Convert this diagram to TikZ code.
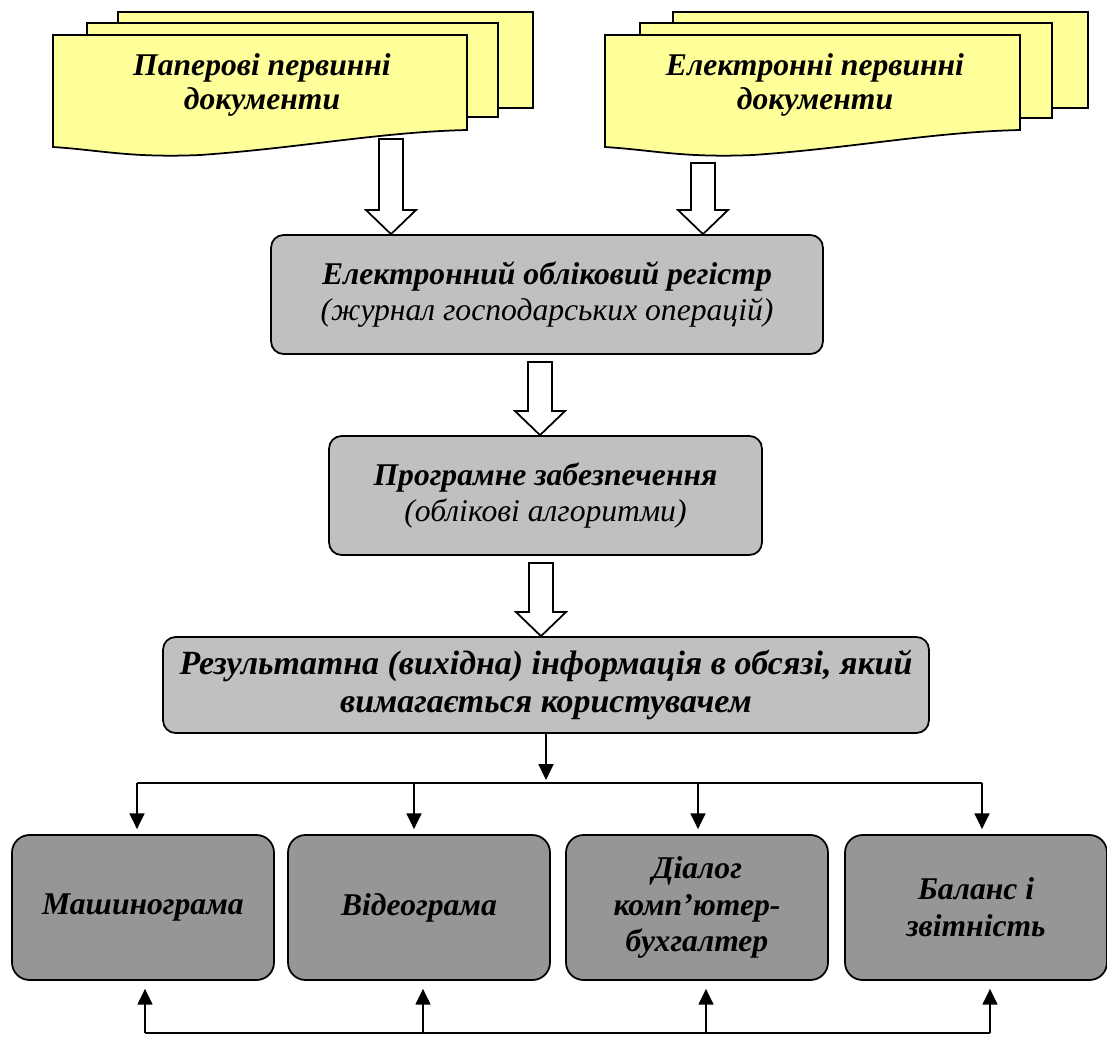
\documentclass[tikz,border=0pt]{standalone}
\usepackage{fontspec}
\setmainfont{Liberation Serif}
\usetikzlibrary{arrows.meta,calc}
\definecolor{docyellow}{HTML}{FFFF99}
\definecolor{boxgray}{HTML}{C0C0C0}
\definecolor{outgray}{HTML}{969696}
\tikzset{
  sheet/.style={draw,line width=1pt,fill=docyellow},
  doctext/.style={align=center,font=\bfseries\itshape\fontsize{18}{19}\selectfont},
  regbox/.style={draw,line width=1pt,fill=boxgray,rounded corners=0.25cm,align=center,font=\bfseries\itshape\fontsize{18}{21}\selectfont},
  outbox/.style={draw,line width=1pt,fill=outgray,rounded corners=0.35cm,align=center,minimum width=5.24cm,minimum height=2.9cm,font=\bfseries\itshape\fontsize{18}{21}\selectfont},
  hollow/.style={draw,line width=1pt,fill=white,to path={let \p1=(\tikztostart),\p2=(\tikztotarget) in
    (\x1-6.8pt,\y1) -- (\x1+6.8pt,\y1) -- (\x1+6.8pt,\y2+13.7pt) -- (\x1+14.2pt,\y2+13.7pt) -- (\x1,\y2)
    -- (\x1-14.2pt,\y2+13.7pt) -- (\x1-6.8pt,\y2+13.7pt) -- cycle}},
  feed/.style={line width=1pt,-{Triangle[length=9pt,width=8.5pt]}}
}
\begin{document}
\begin{tikzpicture}[x=0.02cm,y=-0.02cm]
  \useasboundingbox (0,0) rectangle (1107,1036);
  % paper documents
  \draw[sheet] (118,12) rectangle (533,108);
  \draw[sheet] (87,23) rectangle (498,117);
  \draw[sheet] (53,35) -- (467,35) -- (467,130) .. controls (380,132) and (300,148) .. (200,155)
    .. controls (130,158) and (100,150) .. (53,147) -- cycle;
  \node[doctext] (paper) at (262,85) {Паперові первинні\\документи};
  % electronic documents
  \draw[sheet] (673,12) rectangle (1088,108);
  \draw[sheet] (640,23) rectangle (1052,118);
  \draw[sheet] (605,35) -- (1020,35) -- (1020,130) .. controls (933,132) and (853,148) .. (753,155)
    .. controls (683,158) and (653,150) .. (605,147) -- cycle;
  \node[doctext] (edoc) at (815,85) {Електронні первинні\\документи};

  \node[regbox,minimum width=11.04cm,minimum height=2.38cm] (reg) at (547,294.5)
    {Електронний обліковий регістр\\{\mdseries(журнал господарських операцій)}};
  \node[regbox,minimum width=8.66cm,minimum height=2.38cm] (soft) at (545.5,495.5)
    {Програмне забезпечення\\{\mdseries(облікові алгоритми)}};
  \node[regbox,minimum width=15.32cm,minimum height=1.92cm,inner xsep=0pt,font=\bfseries\itshape\fontsize{19.3}{22}\selectfont] (res) at (546,685)
    {Результатна (вихідна) інформація в обсязі, який\\вимагається користувачем};

  \node[outbox] (mash) at (143,907.5) {Машинограма};
  \node[outbox] (video) at (419,907.5) {Відеограма};
  \node[outbox] (dial) at (697,907.5) {Діалог\\комп’ютер-\\бухгалтер};
  \node[outbox] (bal) at (976,907.5) {Баланс і\\звітність};

  % block arrows
  \coordinate (p1) at (391,139);
  \coordinate (e1) at (703,163);
  \coordinate (r1) at (540,362);
  \coordinate (s1) at (541,563);
  \draw[hollow] (p1) to (p1 |- reg.north);
  \draw[hollow] (e1) to (e1 |- reg.north);
  \draw[hollow] (r1) to (r1 |- soft.north);
  \draw[hollow] (s1) to (s1 |- res.north);

  % output lines
  \coordinate (tl) at (137,783);
  \coordinate (tr) at (982,783);
  \coordinate (bl) at (145,1033);
  \coordinate (br) at (990,1033);
  \draw[feed] (res.south) -- ([yshift=0.06cm]res.south |- tl);
  \draw[line width=1pt] (tl) -- (tr);
  \draw[line width=1pt] (bl) -- (br);
  \foreach \b/\x in {mash/137,video/414,dial/698,bal/982}
    \draw[feed,shorten >=0.1cm] (\x,783) -- (\x,0 |- \b.north);
  \foreach \b/\x in {mash/145,video/423,dial/706,bal/990}
    \draw[feed,shorten >=0.16cm] (\x,1033) -- (\x,0 |- \b.south);
\end{tikzpicture}
\end{document}
